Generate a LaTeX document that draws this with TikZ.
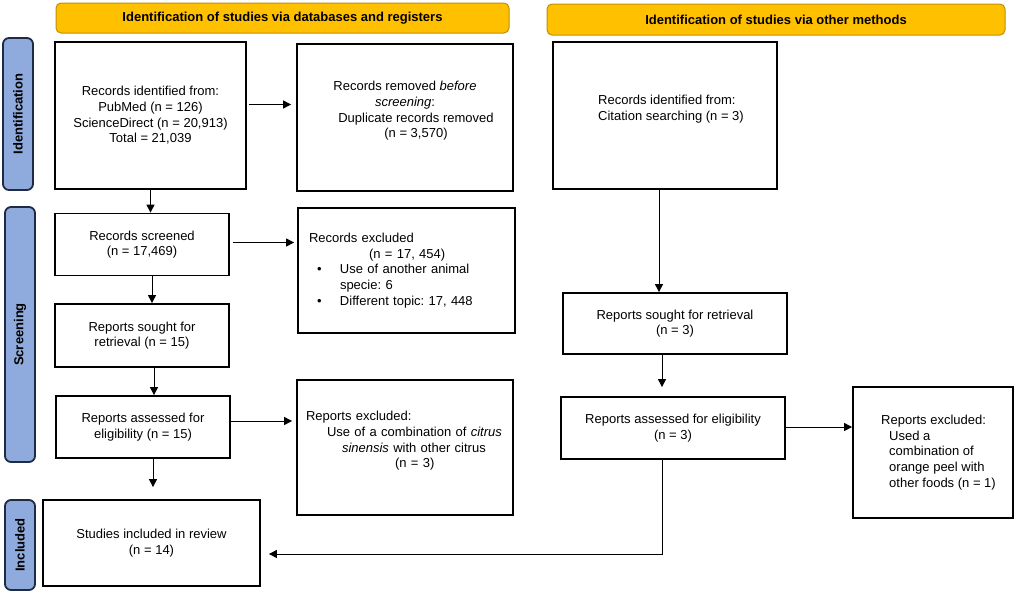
\documentclass[tikz,border=0pt]{standalone}
\usepackage{fontspec}
\setmainfont{Liberation Sans}
\usetikzlibrary{arrows.meta}
\definecolor{gold}{HTML}{FFC000}
\definecolor{golddark}{HTML}{BF9000}
\definecolor{phaseblue}{HTML}{8FAADC}
\definecolor{phaseline}{HTML}{1F2A44}
\tikzset{
  txt/.style={font=\fontsize{13}{15.7}\selectfont\frenchspacing},
  boldtxt/.style={font=\fontsize{13}{15.7}\selectfont\bfseries},
  box/.style={txt,draw,line width=1.8pt,inner sep=0pt},
  header/.style={boldtxt,draw=golddark,fill=gold,rounded corners=5pt,line width=1pt,inner sep=0pt},
  phase/.style={boldtxt,draw=phaseline,fill=phaseblue,rounded corners=6pt,line width=1.8pt,inner sep=0pt,rotate=90},
  arr/.style={-{Triangle[length=8pt,width=8pt]},line width=1pt}
}
\begin{document}
\begin{tikzpicture}[x=1pt,y=-1pt]
  \useasboundingbox (0,0) rectangle (1021,595);

  \node[header,minimum width=453,minimum height=30] (hdb) at (282.5,18) {Identification of studies via databases and registers};
  \node[header,minimum width=458,minimum height=31] (hot) at (776,19.5) {Identification of studies via other methods};

  \node[phase,minimum width=152,minimum height=30] (pid) at (18,114) {Identification};
  \node[phase,minimum width=255,minimum height=30] (psc) at (20,334.5) {Screening};
  \node[phase,minimum width=90,minimum height=30] (pin) at (20,545) {Included};

  \node[box,align=center,minimum width=191,minimum height=147] (recid) at (150.5,115.5)
    {Records identified from:\\PubMed (n = 126)\\ScienceDirect (n = 20,913)\\Total = 21,039};
  \node[box,align=center,minimum width=216,minimum height=147] (recrm) at (405,117.5)
    {Records removed \textit{before}\\\textit{screening}:\\\hspace*{22pt}Duplicate records removed\\\hspace*{22pt}(n = 3,570)\\\mbox{}};
  \node[box,align=center,minimum width=174,minimum height=62] (recsc) at (142,244.5)
    {Records screened\\(n = 17,469)};
  \node[box,align=left,text width=195,minimum width=217,minimum height=125] (recex) at (406.5,270.5)
    {Records excluded\\
     \hspace*{60pt}(n = 17, 454)\\
     \hspace*{8pt}\makebox[23pt][l]{\textbullet}Use of another animal\\
     \hspace*{31pt}specie: 6\\
     \hspace*{8pt}\makebox[23pt][l]{\textbullet}Different topic: 17, 448};
  \node[box,align=center,minimum width=174,minimum height=63] (repso) at (142,335.5)
    {Reports sought for\\retrieval (n = 15)};
  \node[box,align=center,minimum width=174,minimum height=62] (repas) at (143,427)
    {Reports assessed for\\eligibility (n = 15)};
  \node[box,align=left,text width=198,minimum width=216,minimum height=135] (repex) at (405,447.5)
    {Reports excluded:\\
     \hspace*{21pt}Use of a combination of \textit{citrus}\\
     \hspace*{36pt}\textit{sinensis} with other citrus\\
     \hspace*{89pt}(n = 3)\\\mbox{}};
  \node[box,align=center,minimum width=217,minimum height=86] (incl) at (151.5,543)
    {Studies included in review\\(n = 14)};

  \node[box,align=left,minimum width=224,minimum height=147] (othid) at (665,115.5)
    {\hspace*{12pt}Records identified from:\\\hspace*{12pt}Citation searching (n = 3)\\\mbox{}};
  \node[box,align=center,minimum width=224,minimum height=61] (othso) at (675,323.5)
    {Reports sought for retrieval\\(n = 3)};
  \node[box,align=center,minimum width=224,minimum height=62] (othas) at (673,428)
    {Reports assessed for eligibility\\(n = 3)};
  \node[box,align=left,minimum width=160,minimum height=131] (othex) at (933,452.5)
    {\hspace*{11pt}Reports excluded:\\
     \hspace*{19pt}Used a\\
     \hspace*{19pt}combination of\\
     \hspace*{19pt}orange peel with\\
     \hspace*{19pt}other foods (n = 1)};

  \draw[arr,shorten <=2pt,shorten >=5pt] ([yshift=11pt]recid.east) -- ([yshift=11pt]recid.east -| recrm.west);
  \draw[arr] (recid.south) -- (recid.south |- recsc.north);
  \draw[arr,shorten <=3pt,shorten >=3pt] ([yshift=2pt]recsc.east) -- ([yshift=2pt]recsc.east -| recex.west);
  \draw[arr] ([xshift=10pt]recsc.south) -- ([xshift=10pt]recsc.south |- repso.north);
  \draw[arr] ([xshift=12pt]repso.south) -- ([xshift=12pt]repso.south |- repas.north);
  \draw[arr,shorten >=4pt] ([yshift=6pt]repas.east) -- ([yshift=6pt]repas.east -| repex.west);
  \draw[arr,shorten >=12pt] ([xshift=10pt]repas.south) -- ([xshift=10pt]repas.south |- incl.north);

  \draw[arr] ([xshift=-6pt]othid.south) -- ([xshift=-6pt]othid.south |- othso.north);
  \draw[arr,shorten >=9pt] ([xshift=-13pt]othso.south) -- ([xshift=-13pt]othso.south |- othas.north);
  \draw[arr] ([yshift=1pt]othas.east) -- ([yshift=1pt]othas.east -| othex.west);
  \draw[arr,shorten >=8pt] ([xshift=-11pt]othas.south) |- ([yshift=-11pt]incl.east);
\end{tikzpicture}
\end{document}
